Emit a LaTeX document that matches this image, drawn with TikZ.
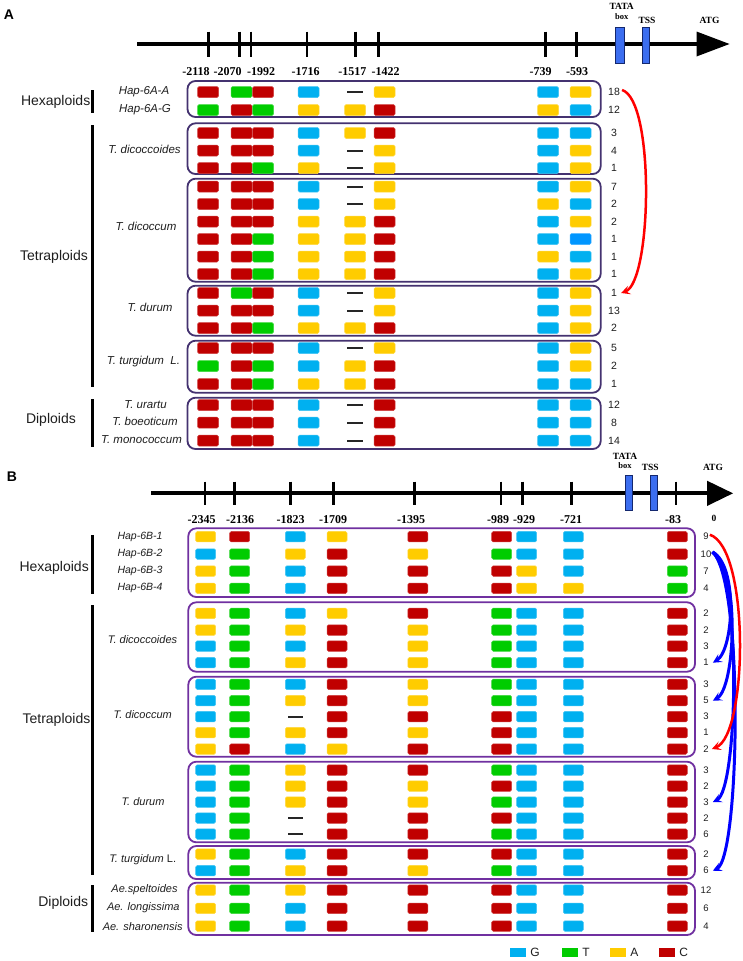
\documentclass[tikz,border=0pt]{standalone}
\usepackage{fontspec}
\setmainfont{Liberation Sans}
\newfontfamily\tnr{Liberation Serif}
\usetikzlibrary{arrows.meta}
\definecolor{colC}{RGB}{192,0,0}
\definecolor{colT}{RGB}{0,204,0}
\definecolor{colG}{RGB}{0,176,240}
\definecolor{colA}{RGB}{255,204,0}
\definecolor{colX}{RGB}{0,150,255}
\definecolor{boxAcol}{RGB}{68,50,112}
\definecolor{boxBcol}{RGB}{112,48,160}
\definecolor{tatafill}{RGB}{60,110,240}
\definecolor{tatadraw}{RGB}{20,40,110}
\definecolor{txtcol}{RGB}{30,30,30}
\definecolor{arrred}{RGB}{255,0,0}
\definecolor{arrblue}{RGB}{0,0,255}
\newcommand\fgrpfont{\fontsize{14}{16}\selectfont}
\newcommand\fspAfont{\fontsize{11.5}{13}\selectfont\itshape}
\newcommand\fspBfont{\fontsize{11}{13}\selectfont\itshape}
\newcommand\fhapBfont{\fontsize{10.5}{12}\selectfont\itshape}
\newcommand\fposfont{\tnr\bfseries\fontsize{12}{14}\selectfont}
\newcommand\fsmallfont{\tnr\bfseries\fontsize{9.5}{11}\selectfont}
\newcommand\fboxfont{\tnr\bfseries\fontsize{8.5}{10}\selectfont}
\def\sqw{21}\def\sqh{11}\def\dashw{16}
\def\cntx{614}
\def\cntfont{\fontsize{10.5}{12}\selectfont}
\def\colsA{{208,241.5,263,308.5,355,384.5,548,580.5}}
\def\colsB{{205.7,239.7,295.3,337,417.8,501.7,526.7,573.3,677.3}}
\newcommand\snprow[5]{%
  \foreach \cc [count=\i] in {#4}{%
    \pgfmathsetmacro\xx{#2[\i-1]}%
    \edef\tmp{\noexpand\node[sq\cc] (#1-\i) at (\xx,#3) {};}\tmp}%
  \node[cnt] (n#1) at (\cntx,#3) {#5};}
\begin{document}
\begin{tikzpicture}[x=1pt,y=-1pt,
  sqbase/.style={minimum width=\sqw, minimum height=\sqh, inner sep=0, outer sep=0, rounded corners=1.5, line width=0.5},
  sqC/.style={sqbase, fill=colC, draw=colC!75!white},
  sqT/.style={sqbase, fill=colT, draw=colT!75!white},
  sqG/.style={sqbase, fill=colG, draw=colG!75!white},
  sqA/.style={sqbase, fill=colA, draw=colA!75!white},
  sqX/.style={sqbase, fill=colX, draw=colX!75!white},
  sqD/.style={minimum width=\dashw, minimum height=2, inner sep=0, outer sep=0, fill=black!85, draw=none},
  cnt/.style={inner sep=1, text=txtcol, font=\cntfont},
  boxA/.style={draw=boxAcol, line width=1.8, rounded corners=8},
  boxB/.style={draw=boxBcol, line width=1.8, rounded corners=8},
  grpbar/.style={line width=3, draw=black},
  grp/.style={inner sep=0, text=txtcol, font=\fgrpfont, anchor=east},
  spA/.style={inner sep=0, text=txtcol, font=\fspAfont},
  spB/.style={inner sep=0, text=txtcol, font=\fspBfont},
  hapB/.style={inner sep=0, text=txtcol, font=\fhapBfont},
  poslab/.style={inner sep=0, font=\fposfont},
  axisline/.style={line width=4, draw=black},
  tk/.style={line width=2.5, draw=black},
  tatabox/.style={fill=tatafill, draw=tatadraw, line width=0.8, inner sep=0},
  ftxt/.style={inner sep=0, font=\fsmallfont},
  fboxt/.style={inner sep=0, font=\fboxfont},
  plabel/.style={inner sep=0, font=\fontsize{14}{16}\selectfont\bfseries},
  arrR/.style={draw=arrred, line width=2.5, -{Stealth[length=9pt,width=9pt,inset=4pt]}},
  arrB/.style={draw=arrblue, line width=3, -{Stealth[length=9pt,width=9pt,inset=4pt]}},
  lg/.style={minimum width=16, minimum height=9, inner sep=0},
  lgtxt/.style={inner sep=0, anchor=west, text=txtcol, font=\fontsize{12}{14}\selectfont}
]
\useasboundingbox (0,0) rectangle (743,961);
\fill[white] (0,0) rectangle (743,961);

% ================= Panel A =================
\node[plabel] (pA) at (9,15) {A};
\draw[axisline] (137,44) -- (697,44);
\fill (696.5,31.5) -- (729.5,44) -- (696.5,56.5) -- cycle;
\foreach \t in {208.5,239.3,251,307,355.3,378.7,545.6,576.7} \draw[tk] (\t,31.5) -- (\t,56.5);
\node[tatabox, minimum width=8.5, minimum height=36] (tataA) at (619.7,45) {};
\node[tatabox, minimum width=7.5, minimum height=36] (tssA) at (646,45) {};
\node[ftxt] (tataAt) at (621.7,6.5) {TATA};
\node[fboxt] (boxAt) at (621.7,17) {box};
\node[ftxt] (tssAt) at (647,20) {TSS};
\node[ftxt] (atgA) at (709.5,20.5) {ATG};
\foreach \px/\lab [count=\k] in {196/-2118,227.5/-2070,261/-1992,305.5/-1716,352.3/-1517,385.7/-1422,540.6/-739,577.2/-593}
  \node[poslab] (posA\k) at (\px,72) {\lab};

\draw[boxA] (187.5,81) rectangle (600.7,117);
\draw[boxA] (187.5,123.3) rectangle (600.7,174);
\draw[boxA] (187.5,178.7) rectangle (600.7,281.7);
\draw[boxA] (187.5,285.7) rectangle (600.7,335.7);
\draw[boxA] (187.5,340.7) rectangle (600.7,392.7);
\draw[boxA] (187.5,397.7) rectangle (600.7,449);

\draw[grpbar] (92.5,90) -- (92.5,113);
\draw[grpbar] (92.5,125) -- (92.5,387);
\draw[grpbar] (92.5,399) -- (92.5,447);
\node[grp] (hexA) at (90.5,101.5) {Hexaploids};
\node[grp] (tetA) at (88,257) {Tetraploids};
\node[grp] (dipA) at (76,420) {Diploids};

\node[spA] (sA1) at (144,92) {Hap-6A-A};
\node[spA] (sA2) at (145,110) {Hap-6A-G};
\node[spA] (sA3) at (144.5,149) {T. dicoccoides};
\node[spA] (sA4) at (146,226) {T. dicoccum};
\node[spA] (sA5) at (150,307) {T. durum};
\node[spA] (sA6) at (143.5,362) {T. turgidum\ \ L.};
\node[spA] (sA7) at (145.5,405) {T. urartu};
\node[spA] (sA8) at (145,421.5) {T. boeoticum};
\node[spA] (sA9) at (141.5,439.5) {T. monococcum};

\snprow{a1}{\colsA}{92}{C,T,C,G,D,A,G,A}{18}
\snprow{a2}{\colsA}{110}{T,C,T,A,A,C,A,G}{12}
\snprow{a3}{\colsA}{133}{C,C,C,G,A,C,G,G}{3}
\snprow{a4}{\colsA}{150.5}{C,C,C,G,D,A,G,A}{4}
\snprow{a5}{\colsA}{168}{C,C,T,A,D,A,G,A}{1}
\snprow{a6}{\colsA}{186.5}{C,C,C,G,D,A,G,A}{7}
\snprow{a7}{\colsA}{204}{C,C,C,G,D,A,A,G}{2}
\snprow{a8}{\colsA}{221.5}{C,C,C,A,A,C,G,A}{2}
\snprow{a9}{\colsA}{239}{C,C,T,A,A,C,G,X}{1}
\snprow{a10}{\colsA}{256.5}{C,C,T,A,A,C,A,G}{1}
\snprow{a11}{\colsA}{274}{C,C,T,A,A,C,G,A}{1}
\snprow{a12}{\colsA}{293}{C,T,C,G,D,A,G,A}{1}
\snprow{a13}{\colsA}{310.5}{C,C,C,G,D,A,G,A}{13}
\snprow{a14}{\colsA}{328}{C,C,T,A,A,C,G,A}{2}
\snprow{a15}{\colsA}{348}{C,C,C,G,D,A,G,A}{5}
\snprow{a16}{\colsA}{366}{T,C,T,G,A,C,G,A}{2}
\snprow{a17}{\colsA}{384}{C,C,T,A,A,C,G,G}{1}
\snprow{a18}{\colsA}{405}{C,C,C,G,D,C,G,G}{12}
\snprow{a19}{\colsA}{422.7}{C,C,C,G,D,C,G,G}{8}
\snprow{a20}{\colsA}{440.7}{C,C,C,G,D,C,G,G}{14}

\draw[arrR] ([shift={(1,-2)}]na1.east) .. controls (655,100) and (652,282) .. ([xshift=3]na12.east);

% ================= Panel B =================
\def\sqw{20}\def\sqh{10.5}\def\dashw{15}
\def\cntx{706}
\def\cntfont{\fontsize{9.5}{11}\selectfont}
\node[plabel] (pB) at (12,477) {B};
\draw[axisline] (151,493.3) -- (708,493.3);
\fill (707,480.7) -- (733,493.3) -- (707,506) -- cycle;
\foreach \t in {205,234.5,290.6,333.4,414.3,500.9,522.3,571.3,676} \draw[tk] (\t,481.5) -- (\t,505);
\node[tatabox, minimum width=7, minimum height=35] (tataB) at (628.5,493.3) {};
\node[tatabox, minimum width=7, minimum height=35] (tssB) at (653.7,493.3) {};
\node[ftxt] (tataBt) at (625,456) {TATA};
\node[fboxt] (boxBt) at (625,465.5) {box};
\node[ftxt] (tssBt) at (650.3,467) {TSS};
\node[ftxt] (atgB) at (713,467) {ATG};
\foreach \px/\lab [count=\k] in {201.6/-2345,240/-2136,290.5/-1823,333/-1709,411/-1395,498/-989,524/-929,571/-721,673/-83}
  \node[poslab] (posB\k) at (\px,520) {\lab};
\node[ftxt] (zeroB) at (714,518) {0};

\draw[boxB] (188.3,528.3) rectangle (695,597);
\draw[boxB] (188.3,602.3) rectangle (695,671.7);
\draw[boxB] (188.3,676.7) rectangle (695,756.7);
\draw[boxB] (188.3,761.7) rectangle (695,842.3);
\draw[boxB] (188.3,846) rectangle (695,879);
\draw[boxB] (188.3,882.7) rectangle (695,935);

\draw[grpbar] (92.5,535) -- (92.5,594);
\draw[grpbar] (92.5,605) -- (92.5,875);
\draw[grpbar] (92.5,885) -- (92.5,931.7);
\node[grp] (hexB) at (89,568) {Hexaploids};
\node[grp] (tetB) at (90.5,720) {Tetraploids};
\node[grp] (dipB) at (88.3,903.3) {Diploids};

\node[hapB] (sB1) at (140,536.7) {Hap-6B-1};
\node[hapB] (sB2) at (140,554) {Hap-6B-2};
\node[hapB] (sB3) at (140,571) {Hap-6B-3};
\node[hapB] (sB4) at (140,588.3) {Hap-6B-4};
\node[spB] (sB5) at (142.5,639.3) {T. dicoccoides};
\node[spB] (sB6) at (142.7,715) {T. dicoccum};
\node[spB] (sB7) at (143,801.7) {T. durum};
\node[spB] (sB8) at (142.7,860) {T. turgidum {\upshape L.}};
\node[spB] (sB9) at (144.5,889.3) {Ae.speltoides};
\node[spB] (sB10) at (143.3,907.7) {Ae. longissima};
\node[spB] (sB11) at (142.7,926.7) {Ae. sharonensis};

\snprow{b1}{\colsB}{536.7}{A,C,G,A,C,C,G,G,C}{9}
\snprow{b2}{\colsB}{554}{G,T,A,C,A,T,G,G,C}{10}
\snprow{b3}{\colsB}{571}{A,T,G,C,C,C,A,G,T}{7}
\snprow{b4}{\colsB}{588.3}{A,T,G,C,C,C,A,A,T}{4}
\snprow{b5}{\colsB}{613.3}{A,T,G,A,C,T,G,G,C}{2}
\snprow{b6}{\colsB}{630}{A,T,A,C,A,T,G,G,C}{2}
\snprow{b7}{\colsB}{646}{G,T,G,C,A,T,G,G,C}{3}
\snprow{b8}{\colsB}{662.7}{G,T,A,C,A,T,G,G,C}{1}
\snprow{b9}{\colsB}{684.3}{G,T,G,C,A,T,G,G,C}{3}
\snprow{b10}{\colsB}{700.7}{G,T,A,C,A,T,G,G,C}{5}
\snprow{b11}{\colsB}{716.7}{G,T,D,C,C,C,G,G,C}{3}
\snprow{b12}{\colsB}{732.7}{A,T,A,C,A,C,G,G,C}{1}
\snprow{b13}{\colsB}{749}{A,C,G,A,C,C,G,G,C}{2}
\snprow{b14}{\colsB}{770}{G,T,A,C,C,T,G,G,C}{3}
\snprow{b15}{\colsB}{786}{G,T,A,C,A,C,G,G,C}{2}
\snprow{b16}{\colsB}{802}{G,T,A,C,A,T,G,G,C}{3}
\snprow{b17}{\colsB}{818}{G,T,D,C,C,C,G,G,C}{2}
\snprow{b18}{\colsB}{834}{G,T,D,C,C,T,G,G,C}{6}
\snprow{b19}{\colsB}{854}{A,T,G,C,C,C,G,G,C}{2}
\snprow{b20}{\colsB}{870.7}{G,T,A,C,A,T,G,G,C}{6}
\snprow{b21}{\colsB}{890}{A,T,A,C,C,C,G,G,C}{12}
\snprow{b22}{\colsB}{908.3}{A,T,G,C,C,C,G,G,C}{6}
\snprow{b23}{\colsB}{926}{A,T,G,C,C,C,G,G,C}{4}

\draw[arrB] ([shift={(0,-2)}]nb2.east) .. controls (738,565) and (734,650) .. ([xshift=3]nb8.east);
\draw[arrB] ([shift={(0,-2)}]nb2.east) .. controls (740,568) and (736,688) .. ([xshift=3]nb10.east);
\draw[arrB] ([shift={(0,-2)}]nb2.east) .. controls (742,575) and (738,790) .. ([xshift=3]nb16.east);
\draw[arrB] ([shift={(0,-2)}]nb2.east) .. controls (744,580) and (740,858) .. ([xshift=3]nb20.east);
\draw[arrR] ([shift={(0,-2)}]nb1.east) .. controls (750,548) and (748,735) .. ([xshift=2]nb13.east);

% legend
\node[lg, fill=colG] (lgG) at (518,952.5) {};
\node[lgtxt] (lgGt) at ([xshift=4]lgG.east) {G};
\node[lg, fill=colT] (lgT) at (570,952.5) {};
\node[lgtxt] (lgTt) at ([xshift=4]lgT.east) {T};
\node[lg, fill=colA] (lgA) at (618,952.5) {};
\node[lgtxt] (lgAt) at ([xshift=4]lgA.east) {A};
\node[lg, fill=colC] (lgC) at (667,952.5) {};
\node[lgtxt] (lgCt) at ([xshift=4]lgC.east) {C};
\end{tikzpicture}
\end{document}
